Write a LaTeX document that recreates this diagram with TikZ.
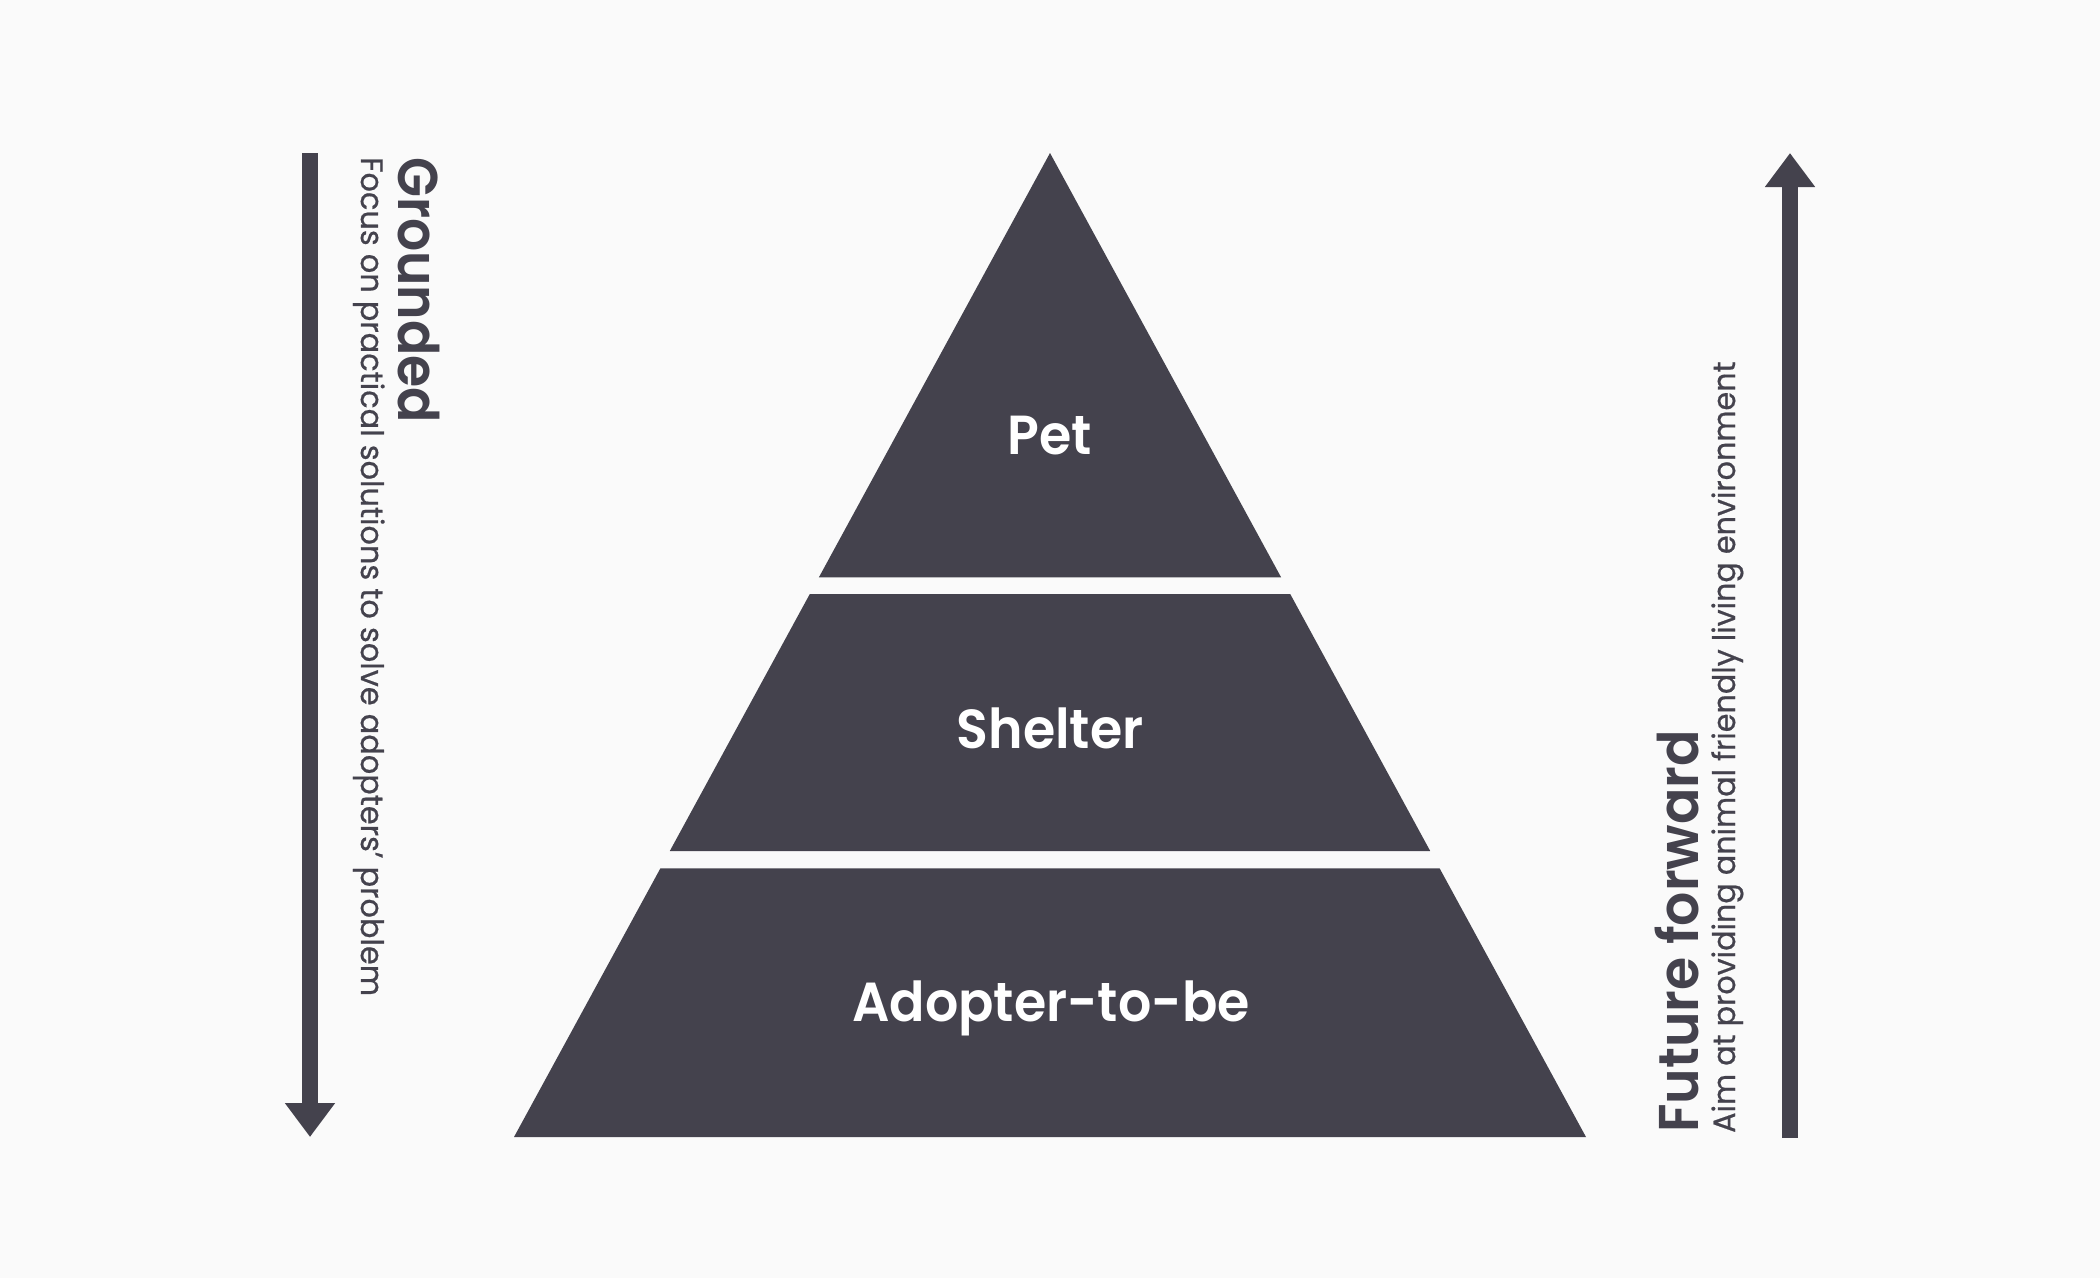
\documentclass[tikz,border=0pt]{standalone}
\usepackage{fontspec}
\setmainfont{Poppins}
\newfontfamily\lblfont{Poppins SemiBold}[FakeStretch=0.95]
\newfontfamily\ttlfont{Poppins SemiBold}[FakeStretch=0.93]
\newfontfamily\ttlfontb{Poppins SemiBold}[FakeStretch=0.96]
\newfontfamily\subfont{Poppins}[FakeStretch=0.98,FakeBold=0.6]
\newfontfamily\subfontb{Poppins}[FakeStretch=0.975,FakeBold=0.6]
\usetikzlibrary{arrows.meta}
\definecolor{ink}{HTML}{44424D}
\definecolor{bg}{HTML}{FAFAFA}
\begin{document}
\begin{tikzpicture}[x=1pt,y=-1pt,
  tier/.style={fill=ink},
  lbl/.style={text=white, font=\fontsize{55}{60}\lblfont, inner sep=0pt, anchor=base},
  ttl/.style={text=ink, font=\fontsize{56}{62}\ttlfont, inner sep=0pt, anchor=base west},
  ttlb/.style={ttl, font=\fontsize{56}{62}\ttlfontb},
  sub/.style={text=ink, font=\fontsize{31}{36}\subfont, inner sep=0pt, anchor=base west},
  subb/.style={sub, font=\fontsize{31}{36}\subfontb},
  bigarrow/.style={draw=ink, line width=16.6pt, -{Triangle[width=48pt,length=34pt]}}]
\useasboundingbox (0,0) rectangle (2100,1278);
\fill[bg] (0,0) rectangle (2100,1278);
% pyramid tiers
\fill[tier] (1050,153) -- (1281.1,577.3) -- (818.9,577.3) -- cycle;
\fill[tier] (809.8,594) -- (1290.2,594) -- (1430.2,851) -- (669.8,851) -- cycle;
\fill[tier] (660.4,868.3) -- (1439.6,868.3) -- (1586,1137) -- (514,1137) -- cycle;
\node[lbl] (pet) at (1050,454) {Pet};
\node[lbl] (shelter) at (1050,748) {Shelter};
\node[lbl] (adopter) at (1051,1021) {Adopter-to-be};
% left arrow
\coordinate (gtop) at (310,153);
\coordinate (gbot) at (310,1137);
\draw[bigarrow] (gtop) -- (gbot);
\node[ttl, rotate=-90] (grounded) at (398,157) {Grounded};
\node[sub, rotate=-90] (focus) at (361,157) {Focus on practical solutions to solve adopters’ problem};
% right arrow
\coordinate (fbot) at (1790,1138);
\coordinate (ftop) at (1790,153);
\draw[bigarrow] (fbot) -- (ftop);
\node[ttlb, rotate=90] (future) at (1698,1133) {Future forward};
\node[subb, rotate=90] (aim) at (1735,1133) {Aim at providing animal friendly living environment};
\end{tikzpicture}
\end{document}
